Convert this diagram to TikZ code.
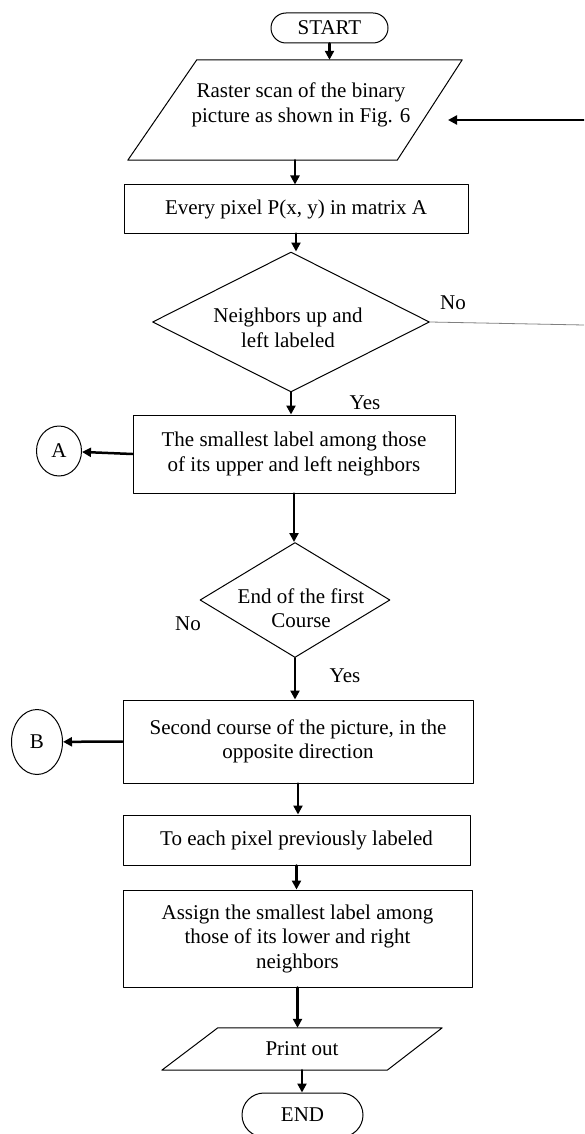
\documentclass[tikz,border=0pt]{standalone}
\usepackage{fontspec}
\setmainfont{Liberation Serif}
\usetikzlibrary{shapes.geometric,arrows.meta}
\begin{document}
\begin{tikzpicture}[x=1pt, y=-1pt, line join=round, line cap=round, >={Triangle[length=9pt,width=9pt]},
	font=\fontsize{21}{24.5}\selectfont,
	box/.style={draw, line width=1pt, align=center, inner sep=0pt},
	term/.style={box, rounded corners=15pt},
	io/.style={align=center, inner sep=0pt},
	dec/.style={box, diamond},
	conn/.style={box, ellipse},
	flow/.style={->, line width=2.5pt}]
	\useasboundingbox (0,0) rectangle (584,1134);
	\clip (0,0) rectangle (584,1134);
	\path
	(584,120)coordinate(back)
	(448,120)coordinate(backtip)
	(584,325)coordinate(noout)
	;
	\node[term, minimum width=117, minimum height=30] (start) at (329.5,28) {START};
	\node[io, minimum width=334, minimum height=100] (scan) at (295,110) {};
	\draw[line width=1pt] ([xshift=69]scan.north west) -- (scan.north east) -- ([xshift=-65]scan.south east) -- (scan.south west) -- cycle;
	\node[align=center] (scantext) at (301,105) {Raster scan of the binary\\picture as shown in Fig. 6};
	\node[box, minimum width=344, minimum height=48] (pix) at (296,209) {Every pixel P(x, y) in matrix A};
	\node[dec, minimum width=277, minimum height=140] (nb) at (291,322) {};
	\node[align=center] (nbtext) at (288,328) {Neighbors up and\\left labeled};
	\node[box, minimum width=322, minimum height=78] (small) at (294,454) {The smallest label among those\\of its upper and left neighbors};
	\node[conn, minimum width=45, minimum height=50] (A) at (59,451) {A};
	\node[dec, minimum width=190, minimum height=115] (endc) at (295,600) {};
	\node[align=center] (endctext) at (301,608) {End of the first\\Course};
	\node[box, minimum width=350, minimum height=83] (second) at (298,741.5) {Second course of the picture, in the\\opposite direction};
	\node[conn, minimum width=51, minimum height=65] (B) at (37,742) {B};
	\node[box, minimum width=347, minimum height=50] (each) at (296.5,840) {To each pixel previously labeled};
	\node[box, minimum width=349, minimum height=97] (assign) at (297.5,938.5) {Assign the smallest label among\\those of its lower and right\\neighbors};
	\node[io, minimum width=280, minimum height=42] (print) at (302,1049) {Print out};
	\draw[line width=1pt] ([xshift=56]print.north west) -- (print.north east) -- ([xshift=-55]print.south east) -- (print.south west) -- cycle;
	\node[term, minimum width=121, minimum height=44, rounded corners=22pt] (stop) at (302.5,1115) {END};
	\node (no1) at (453,303) {No};
	\node (yes1) at (365,403) {Yes};
	\node (no2) at (188,624) {No};
	\node (yes2) at (345,676) {Yes};
	\draw[flow] (start.south) -- (start.south |- scan.north);
	\draw[flow] (scan.south) -- (scan.south |- pix.north);
	\draw[flow] (pix.south) -- (pix.south |- nb.north);
	\draw[flow] (nb.south) -- (nb.south |- small.north);
	\draw[flow] (small.west) -- (A);
	\draw[flow] (small.south) -- (small.south |- endc.north);
	\draw[flow] (endc.south) -- (endc.south |- second.north);
	\draw[flow] (second.west) -- (B);
	\draw[flow] (second.south) -- (second.south |- each.north);
	\draw[flow] (each.south) -- (each.south |- assign.north);
	\draw[flow] (assign.south) -- (assign.south |- print.north);
	\draw[flow] (print.south) -- (print.south |- stop.north);
	\draw[flow] (back) -- (backtip);
	\draw[gray, line width=0.8pt] (nb.east) -- (noout);
\end{tikzpicture}
\end{document}
